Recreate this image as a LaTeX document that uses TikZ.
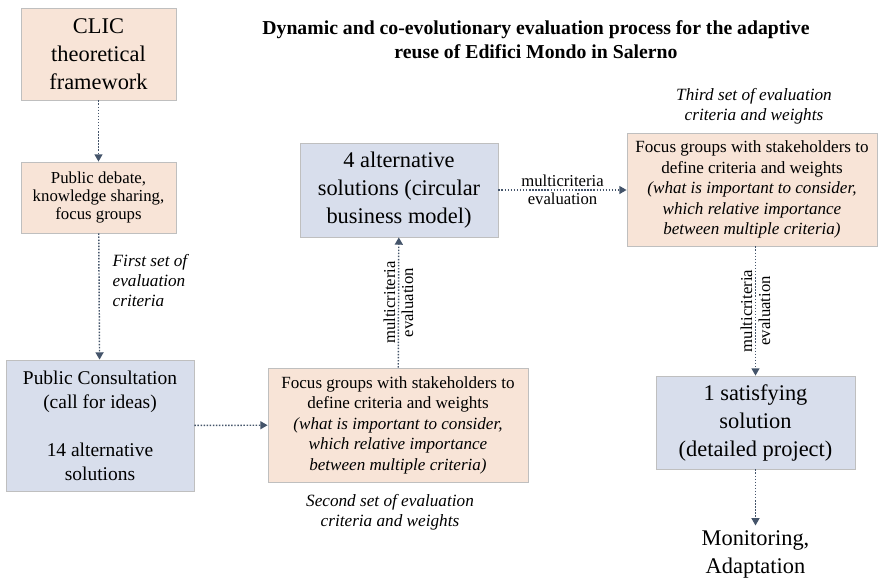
\documentclass[tikz,border=0pt]{standalone}
\usepackage{fontspec}
\setmainfont{Liberation Serif}
\usepackage{xcolor}
\usetikzlibrary{arrows.meta,positioning}

\definecolor{peach}{HTML}{F8E4D7}
\definecolor{bluegrey}{HTML}{D8DEEC}
\definecolor{boxline}{HTML}{BFBFBF}
\definecolor{flowcol}{HTML}{44546A}

% font sizes
\newcommand{\bigtxt}{\fontsize{16.8}{21}\selectfont}
\newcommand{\midtxt}{\fontsize{14.6}{18}\selectfont}
\newcommand{\smalltxt}{\fontsize{12.6}{13.7}\selectfont}
\newcommand{\focustxt}{\fontsize{12.8}{15.4}\selectfont}
\newcommand{\setlbl}{\fontsize{12.9}{15}\selectfont\itshape}
\newcommand{\evaltxt}{\fontsize{12.5}{13.5}\selectfont}

\tikzset{
  box/.style={draw=boxline, line width=0.6pt, align=center, inner sep=1pt},
  peachbox/.style={box, fill=peach},
  bluebox/.style={box, fill=bluegrey},
  flow/.style={draw=flowcol, line width=1.1pt, dash pattern=on 1.1pt off 1.2pt,
    -{Triangle[width=6pt,length=5.5pt]}},
  evallbl/.style={align=center, font=\evaltxt, inner sep=0pt}
}

\begin{document}
\begin{tikzpicture}[x=0.75pt, y=-0.75pt]

\useasboundingbox (0,0) rectangle (879,579);

% title
\path
(536,40) node [align=center, font=\fontsize{14.8}{18}\selectfont\bfseries] (title)
{Dynamic and co-evolutionary evaluation process for the adaptive\\
 reuse of Edifici Mondo in Salerno};

% left column
\path
(98.5,54) node [peachbox, minimum width=116.25pt, minimum height=69pt, font=\bigtxt] (clic)
{CLIC\\theoretical\\framework}
(98.5,197.5) node [peachbox, minimum width=116.25pt, minimum height=53.25pt, font=\smalltxt] (debate)
{Public debate,\\knowledge sharing,\\focus groups}
(100,425.5) node [bluebox, minimum width=141pt, minimum height=98.25pt, font=\midtxt] (consult)
{Public Consultation\\(call for ideas)\\[18pt]14 alternative\\solutions};

% middle column
\path
(398,425) node [peachbox, minimum width=195pt, minimum height=85.5pt, font=\focustxt] (focustwo)
{Focus groups with stakeholders to\\define criteria and weights\\
 \textit{(what is important to consider,}\\\textit{which relative importance}\\
 \textit{between multiple criteria)}}
(399,190) node [bluebox, minimum width=148.5pt, minimum height=70.5pt, font=\bigtxt] (altfour)
{4 alternative\\solutions (circular\\business model)};

% right column
\path
(752,189.5) node [peachbox, minimum width=187.5pt, minimum height=84.75pt, font=\focustxt] (focusthree)
{Focus groups with stakeholders to\\define criteria and weights\\
 \textit{(what is important to consider,}\\\textit{which relative importance}\\
 \textit{between multiple criteria)}}
(755.5,422.5) node [bluebox, minimum width=149.25pt, minimum height=69.75pt, font=\bigtxt] (satisfy)
{1 satisfying\\solution\\(detailed project)}
(755.5,554) node [align=center, font=\bigtxt] (monitor)
{Monitoring,\\Adaptation};

% sets of criteria
\path
(108,281) node [right, align=left, font=\setlbl] (firstset)
{First set of\\evaluation\\criteria}
(390,512) node [align=center, font=\setlbl] (secondset)
{Second set of evaluation\\criteria and weights}
(754,106) node [align=center, font=\setlbl] (thirdset)
{Third set of evaluation\\criteria and weights};

% dotted flows
\draw [flow] (clic) -- (debate);
\draw [flow] (debate) -- (consult);
\draw [flow] (consult) -- (focustwo);
\draw [flow] (focustwo) -- (altfour)
  node [midway, evallbl, rotate=90] (evalone) {multicriteria\\evaluation};
\draw [flow] (altfour.east |- 0,190) -- (focusthree.west |- 0,190)
  node [midway, evallbl] (evaltwo) {multicriteria\\evaluation};
\draw [flow] (focusthree.south -| satisfy) -- (satisfy)
  node [midway, evallbl, rotate=90] (evalthree) {multicriteria\\evaluation};
\draw [flow] (satisfy) -- (monitor);

\end{tikzpicture}
\end{document}
